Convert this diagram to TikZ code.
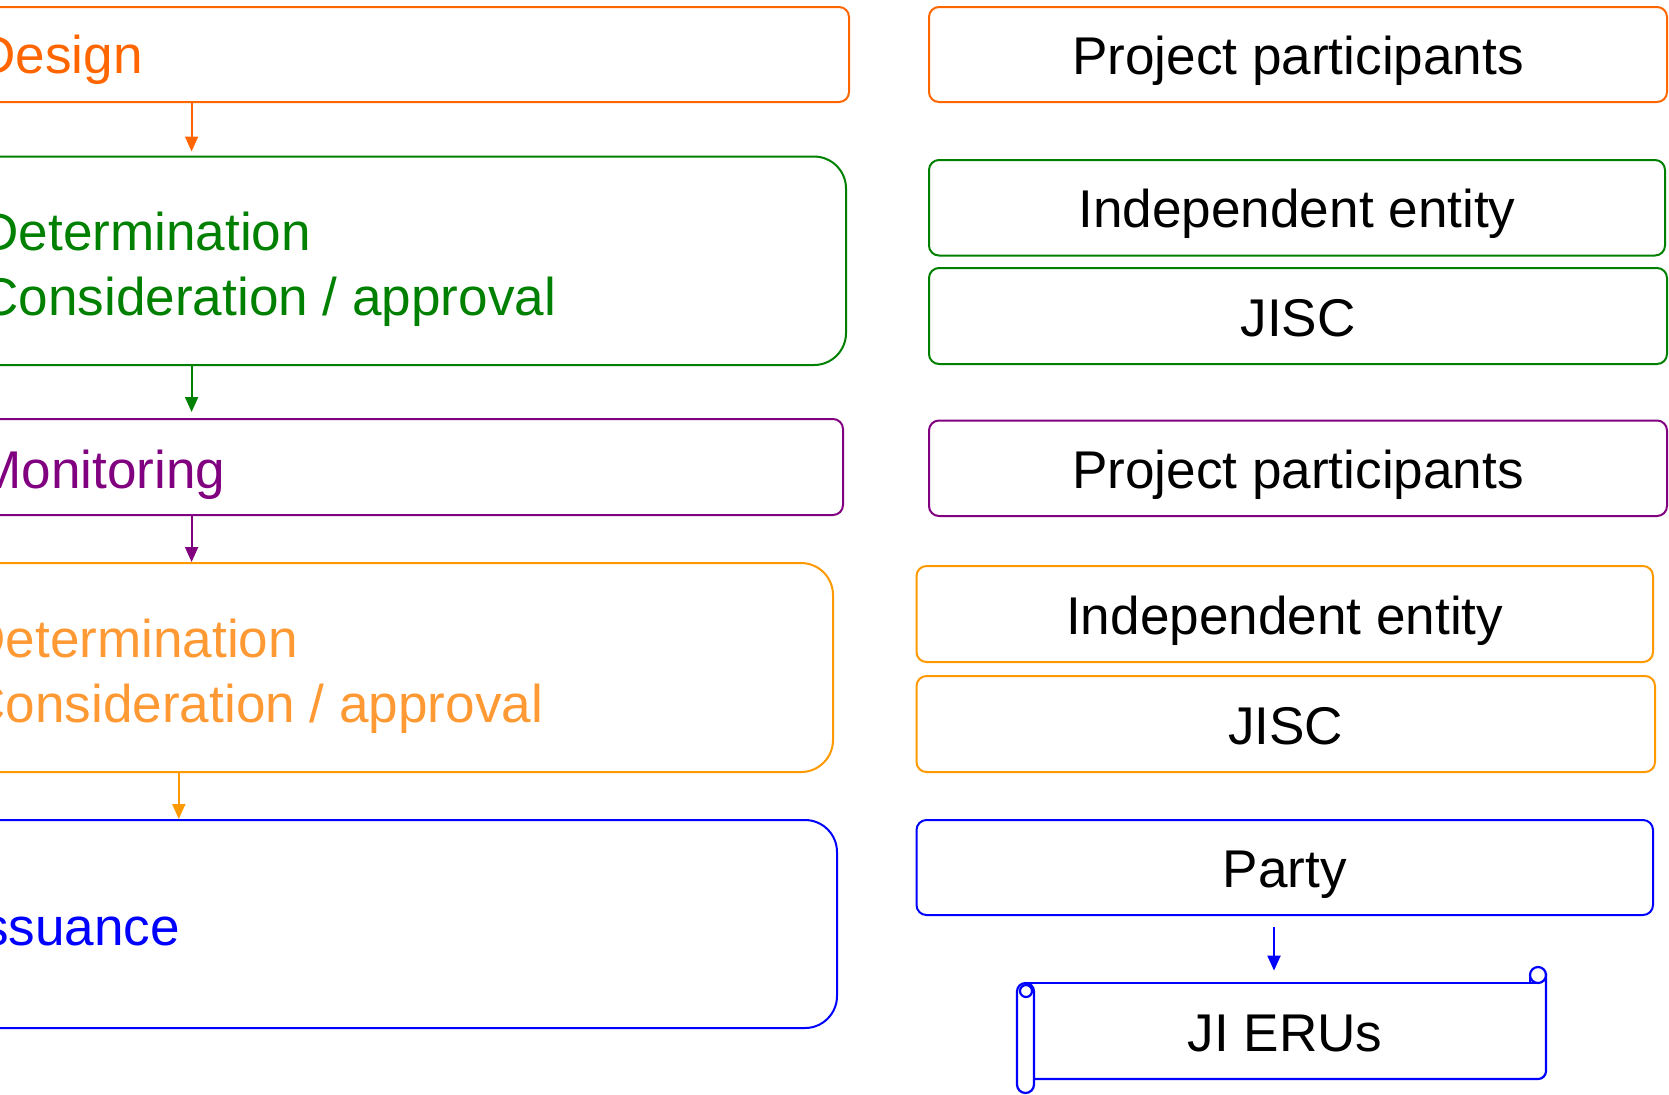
\documentclass[tikz,border=0pt]{standalone}
\usepackage{fontspec}
\setmainfont{Liberation Sans}
\usetikzlibrary{arrows.meta}
\definecolor{cDesign}{HTML}{FF6600}
\definecolor{cGreen}{HTML}{008000}
\definecolor{cPurple}{HTML}{800080}
\definecolor{cLOrange}{HTML}{FF9900}
\definecolor{cLOText}{HTML}{FF9933}
\definecolor{cBlue}{HTML}{0000FF}
\begin{document}
\begin{tikzpicture}[x=0.5pt,y=-0.5pt,
  txt/.style={font=\fontsize{26.56pt}{32.4pt}\selectfont, text height=25.5pt, text depth=5.3pt},
  box/.style={draw, line width=1pt, rounded corners=5pt, inner sep=0pt, txt},
  bigbox/.style={box, rounded corners=16pt},
  lefttext/.style={anchor=west, inner sep=0pt, align=left,
    font=\fontsize{26.56pt}{32.4pt}\selectfont},
  flowarrow/.style={line width=1pt, -{Triangle[length=7.5pt,width=6.5pt]}},
  scrollline/.style={draw=cBlue, line width=1.1pt}
]
\useasboundingbox (0,0) rectangle (1669,1094);
\clip (0,0) rectangle (1669,1094);

% left column boxes
\node[box, draw=cDesign, minimum width=454.5pt, minimum height=47.5pt] (design) at (394.5,54.5) {};
\node[bigbox, draw=cGreen, minimum width=453pt, minimum height=104.25pt] (detA) at (393,260.75) {};
\node[box, draw=cPurple, minimum width=451.5pt, minimum height=48pt] (monitor) at (391.5,467) {};
\node[bigbox, draw=cLOrange, minimum width=446.5pt, minimum height=104.5pt] (detB) at (386.5,667.5) {};
\node[bigbox, draw=cBlue, minimum width=448.5pt, minimum height=104pt] (issue) at (388.5,924) {};

% left column texts
\node[lefttext, text=cDesign] (designT) at (-23,60) {Design};
\node[lefttext, text=cGreen] (detAT) at (-20,269) {Determination\\Consideration / approval};
\node[lefttext, text=cPurple] (monitorT) at (-23,475) {Monitoring};
\node[lefttext, text=cLOText] (detBT) at (-33,676) {Determination\\Consideration / approval};
\node[lefttext, text=cBlue] (issueT) at (-33,927) {Issuance};

% left column arrows
\coordinate (ax) at (191.6,0);
\coordinate (bx) at (178.8,0);
\draw[flowarrow, cDesign] (design.south -| ax) -- ([yshift=2pt]detA.north -| ax);
\draw[flowarrow, cGreen] (detA.south -| ax) -- ([yshift=3pt]monitor.north -| ax);
\draw[flowarrow, cPurple] (monitor.south -| ax) -- (detB.north -| ax);
\draw[flowarrow, cLOrange] (detB.south -| bx) -- (issue.north -| bx);

% right column boxes
\node[box, draw=cDesign, minimum width=369pt, minimum height=47.5pt] (pp1) at (1298,54.5) {Project participants};
\node[box, draw=cGreen, minimum width=368pt, minimum height=47.75pt] (ie1) at (1297,207.75) {Independent entity};
\node[box, draw=cGreen, minimum width=369pt, minimum height=48pt] (jisc1) at (1298,316) {JISC};
\node[box, draw=cPurple, minimum width=369pt, minimum height=47.75pt] (pp2) at (1298,468.25) {Project participants};
\node[box, draw=cLOrange, minimum width=368.25pt, minimum height=48pt] (ie2) at (1284.75,614) {Independent entity};
\node[box, draw=cLOrange, minimum width=369.25pt, minimum height=48pt] (jisc2) at (1285.75,724) {JISC};
\node[box, draw=cBlue, minimum width=368.25pt, minimum height=47.5pt] (party) at (1284.75,867.5) {Party};

% scroll (JI ERUs)
\node[inner sep=0pt, minimum width=264.5pt, minimum height=48pt, txt] (eru) at (1281,1031) {\hspace*{4pt}JI ERUs};
\draw[scrollline] (1026,983) -- (1538,983);
\draw[scrollline, rounded corners=4pt] (1546,973) -- (1546,1079) -- (1034,1079);
\draw[scrollline] (1538,975) circle[radius=8];
\draw[scrollline] (1530,975) -- (1530,983);
\draw[scrollline, rounded corners=4.25pt] (1017,983) rectangle (1034,1093);
\draw[scrollline] (1026,991) circle[radius=6];

\coordinate (cx) at (1274,0);
\draw[flowarrow, cBlue] ([yshift=-5.5pt]party.south -| cx) -- ([yshift=6pt]eru.north -| cx);
\end{tikzpicture}
\end{document}
